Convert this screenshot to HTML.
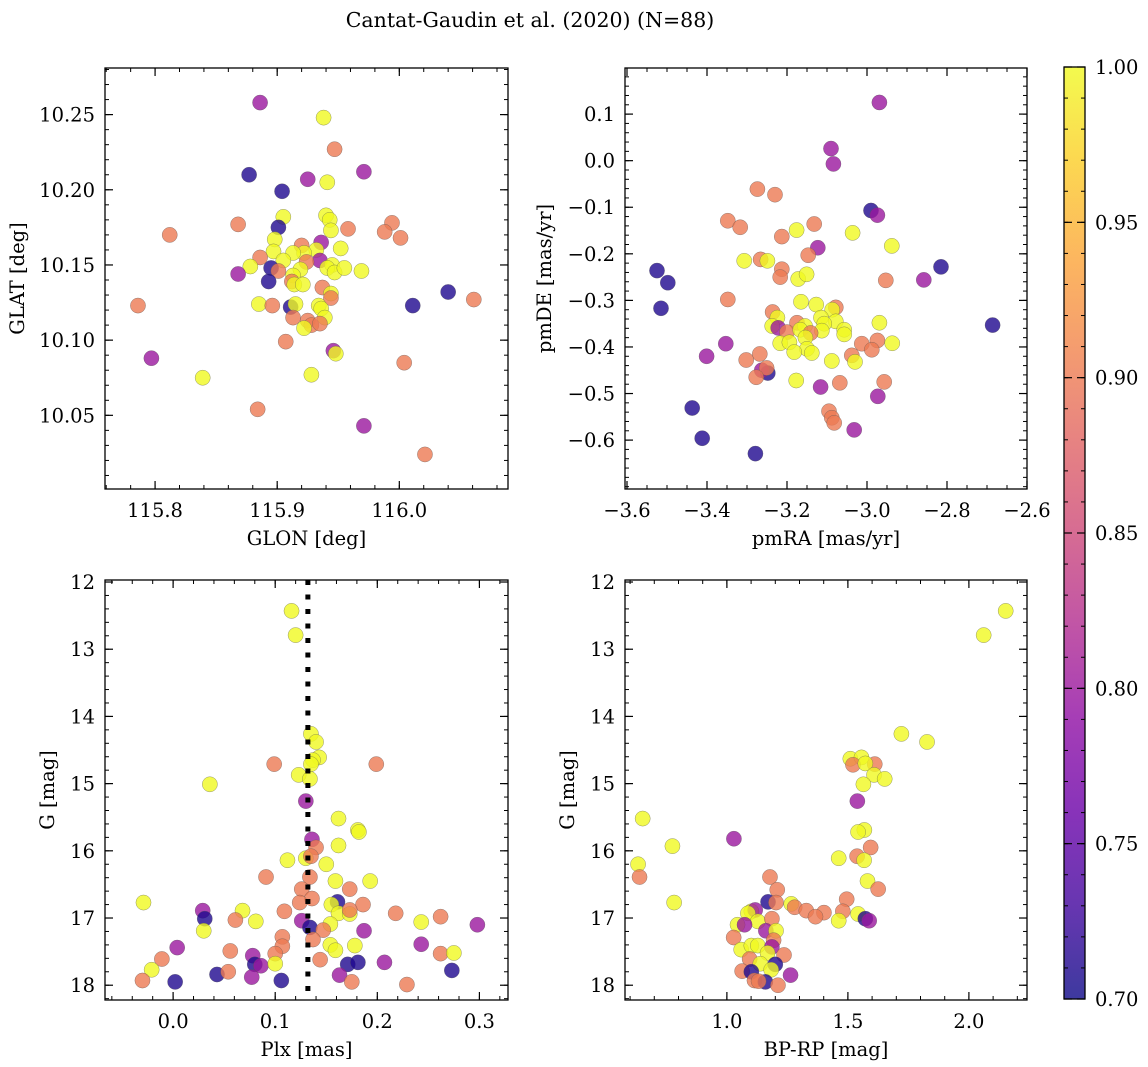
<!DOCTYPE html>
<html><head><meta charset="utf-8">
<style>
html,body{margin:0;padding:0;background:#fff;}
svg{display:block;font-family:"DejaVu Serif","Liberation Serif",serif;}
</style></head>
<body>
<svg id="fig" width="1148" height="1067" viewBox="0 0 1148 1067" xmlns="http://www.w3.org/2000/svg">
<defs>
<linearGradient id="plasma" x1="0" y1="1" x2="0" y2="0">
<stop offset="0" stop-color="#0d0887"/><stop offset="0.1" stop-color="#41049d"/><stop offset="0.2" stop-color="#6a00a8"/><stop offset="0.3" stop-color="#8f0da4"/><stop offset="0.4" stop-color="#b12a90"/><stop offset="0.5" stop-color="#cc4778"/><stop offset="0.6" stop-color="#e16462"/><stop offset="0.7" stop-color="#f2844b"/><stop offset="0.8" stop-color="#fca636"/><stop offset="0.9" stop-color="#fcce25"/><stop offset="1" stop-color="#f0f921"/>
</linearGradient>
</defs>
<text x="530" y="27" text-anchor="middle" font-size="20.5">Cantat-Gaudin et al. (2020) (N=88)</text>
</svg>
<script>
// probability codes
const Y=1.0,O=0.90,M=0.80,B=0.71;
// Panel 1: GLON, GLAT, prob
const glonGlat=[[115.886,10.258,M],[115.938,10.248,Y],[115.947,10.227,O],[115.877,10.210,B],[115.925,10.207,M],[115.971,10.212,M],[115.941,10.205,Y],[115.904,10.199,B],[115.905,10.182,Y],[115.901,10.175,B],[115.868,10.177,O],[115.812,10.170,O],[115.940,10.183,Y],[115.943,10.180,Y],[115.944,10.173,Y],[115.958,10.174,O],[115.994,10.178,O],[115.988,10.172,O],[116.001,10.168,O],[115.898,10.167,Y],[115.936,10.165,M],[115.920,10.163,O],[115.952,10.161,Y],[115.897,10.159,Y],[115.886,10.155,O],[115.932,10.160,Y],[115.922,10.158,Y],[115.913,10.158,Y],[115.905,10.153,Y],[115.935,10.153,M],[115.924,10.152,O],[115.878,10.149,Y],[115.895,10.148,B],[115.945,10.150,Y],[115.941,10.148,Y],[115.947,10.145,Y],[115.955,10.148,Y],[115.969,10.146,Y],[115.901,10.146,O],[115.919,10.147,Y],[115.913,10.143,Y],[115.868,10.144,M],[115.893,10.139,B],[115.912,10.139,O],[115.914,10.137,Y],[115.921,10.137,Y],[115.937,10.135,O],[115.944,10.131,Y],[115.944,10.128,O],[116.040,10.132,B],[116.061,10.127,O],[115.786,10.123,O],[115.885,10.124,Y],[115.896,10.123,O],[115.911,10.122,B],[115.915,10.124,Y],[116.011,10.123,B],[115.934,10.123,Y],[115.936,10.121,Y],[115.913,10.115,O],[115.939,10.115,Y],[115.925,10.113,O],[115.928,10.110,O],[115.935,10.111,O],[115.922,10.108,Y],[115.907,10.099,O],[115.946,10.093,M],[115.948,10.091,Y],[115.797,10.088,M],[116.004,10.085,O],[115.839,10.075,Y],[115.928,10.077,Y],[115.884,10.054,O],[115.971,10.043,M],[116.021,10.024,O]];
// Panel 2: pmRA, pmDE, prob
const pmRaDe=[[-2.969,0.125,M],[-3.090,0.026,M],[-3.084,-0.007,M],[-3.274,-0.061,O],[-3.230,-0.073,O],[-2.990,-0.107,B],[-2.974,-0.117,M],[-3.348,-0.129,O],[-3.317,-0.143,O],[-3.132,-0.136,O],[-3.176,-0.149,Y],[-3.036,-0.155,Y],[-3.213,-0.163,O],[-2.938,-0.183,Y],[-3.123,-0.187,M],[-3.147,-0.203,O],[-3.307,-0.215,Y],[-3.266,-0.212,O],[-3.249,-0.215,Y],[-2.815,-0.228,B],[-3.525,-0.236,B],[-3.213,-0.233,O],[-3.217,-0.250,O],[-3.172,-0.254,Y],[-3.151,-0.244,Y],[-3.498,-0.262,B],[-2.953,-0.257,O],[-2.858,-0.256,M],[-3.515,-0.317,B],[-3.348,-0.298,O],[-3.165,-0.303,Y],[-3.127,-0.309,Y],[-3.078,-0.315,O],[-3.087,-0.320,Y],[-3.236,-0.325,O],[-3.224,-0.337,Y],[-3.115,-0.337,Y],[-3.078,-0.345,Y],[-2.969,-0.348,Y],[-3.175,-0.348,O],[-2.686,-0.353,B],[-3.237,-0.355,Y],[-3.155,-0.355,Y],[-3.222,-0.359,M],[-3.107,-0.350,Y],[-3.200,-0.368,O],[-3.167,-0.363,Y],[-3.113,-0.365,Y],[-3.141,-0.370,O],[-3.057,-0.363,Y],[-3.057,-0.373,Y],[-3.154,-0.380,Y],[-3.217,-0.392,Y],[-3.194,-0.390,Y],[-3.353,-0.393,M],[-3.013,-0.393,O],[-2.974,-0.386,O],[-2.937,-0.392,Y],[-2.988,-0.406,O],[-3.150,-0.404,Y],[-3.182,-0.411,Y],[-3.138,-0.413,Y],[-3.401,-0.420,M],[-3.268,-0.415,O],[-3.038,-0.418,O],[-3.302,-0.428,O],[-3.088,-0.430,Y],[-3.030,-0.432,Y],[-3.248,-0.456,B],[-3.263,-0.450,M],[-3.251,-0.445,O],[-3.277,-0.465,O],[-3.177,-0.472,Y],[-3.068,-0.477,O],[-2.957,-0.475,O],[-3.116,-0.486,M],[-2.973,-0.506,M],[-3.437,-0.531,B],[-3.095,-0.538,O],[-3.088,-0.552,O],[-3.082,-0.563,O],[-3.032,-0.578,M],[-3.412,-0.596,B],[-3.279,-0.629,B]];
// Panel 3: Plx, G, prob
const plxG=[[0.116,12.43,Y],[0.120,12.79,Y],[0.135,14.26,Y],[0.140,14.38,Y],[0.143,14.61,Y],[0.137,14.65,Y],[0.135,14.71,Y],[0.099,14.71,O],[0.199,14.71,O],[0.123,14.87,Y],[0.134,14.93,Y],[0.036,15.01,Y],[0.130,15.26,M],[0.162,15.52,Y],[0.181,15.69,Y],[0.182,15.72,Y],[0.136,15.83,M],[0.140,15.95,O],[0.162,15.92,Y],[0.112,16.14,Y],[0.130,16.11,Y],[0.135,16.08,O],[0.150,16.20,Y],[0.091,16.39,O],[0.134,16.39,O],[0.159,16.45,Y],[0.193,16.45,Y],[0.173,16.57,O],[0.126,16.57,O],[0.136,16.71,O],[0.124,16.77,O],[0.161,16.76,B],[0.155,16.80,Y],[-0.029,16.77,Y],[0.186,16.80,O],[0.029,16.89,M],[0.068,16.89,Y],[0.109,16.90,O],[0.162,16.93,Y],[0.173,16.94,Y],[0.173,16.88,O],[0.218,16.93,O],[0.262,16.98,O],[0.031,17.01,B],[0.061,17.03,O],[0.081,17.05,Y],[0.126,17.04,M],[0.243,17.06,Y],[0.298,17.10,M],[0.154,17.09,Y],[0.134,17.14,B],[0.147,17.18,O],[0.030,17.19,Y],[0.187,17.19,M],[0.107,17.28,O],[0.137,17.32,O],[0.107,17.42,O],[0.154,17.40,Y],[0.159,17.48,Y],[0.178,17.41,Y],[0.243,17.39,M],[0.004,17.44,M],[0.100,17.53,O],[0.056,17.49,O],[0.262,17.53,O],[0.275,17.52,Y],[-0.011,17.61,O],[0.078,17.56,M],[0.144,17.62,O],[0.080,17.69,B],[0.086,17.71,M],[0.100,17.68,Y],[0.171,17.69,B],[0.181,17.66,B],[0.207,17.66,M],[-0.021,17.77,Y],[0.273,17.78,B],[0.043,17.84,B],[0.054,17.80,O],[0.163,17.85,M],[0.077,17.88,M],[-0.030,17.93,O],[0.002,17.95,B],[0.106,17.93,B],[0.175,17.95,O],[0.229,17.99,O]];
// Panel 4: BP-RP, G, prob
const colorG=[[2.152,12.43,Y],[2.061,12.79,Y],[1.721,14.26,Y],[1.827,14.38,Y],[1.510,14.63,Y],[1.556,14.61,Y],[1.521,14.72,O],[1.611,14.71,O],[1.572,14.70,Y],[1.608,14.87,Y],[1.652,14.93,Y],[1.564,15.01,Y],[1.539,15.26,M],[0.652,15.52,Y],[1.568,15.69,Y],[1.542,15.72,Y],[1.029,15.82,M],[0.775,15.93,Y],[1.594,15.95,O],[1.538,16.08,O],[1.567,16.14,Y],[1.462,16.11,Y],[0.633,16.20,Y],[0.639,16.39,O],[1.178,16.39,O],[1.581,16.45,Y],[1.625,16.57,O],[1.208,16.58,O],[0.782,16.77,Y],[1.170,16.76,B],[1.203,16.77,O],[1.495,16.72,O],[1.266,16.79,Y],[1.280,16.84,O],[1.328,16.89,O],[1.401,16.92,O],[1.366,16.98,O],[1.479,16.90,O],[1.542,16.94,Y],[1.572,17.01,B],[1.588,17.04,M],[1.462,17.04,Y],[1.101,16.90,Y],[1.117,16.88,M],[1.087,16.93,Y],[1.128,17.05,Y],[1.186,17.01,O],[1.044,17.10,Y],[1.073,17.10,M],[1.161,17.19,M],[1.203,17.19,Y],[1.028,17.29,O],[1.193,17.33,O],[1.059,17.47,Y],[1.101,17.41,Y],[1.128,17.41,Y],[1.186,17.43,M],[1.168,17.52,Y],[1.236,17.55,O],[1.094,17.61,O],[1.138,17.68,Y],[1.200,17.69,B],[1.183,17.77,Y],[1.263,17.85,M],[1.063,17.79,O],[1.101,17.80,B],[1.114,17.93,O],[1.159,17.95,B],[1.131,17.94,O],[1.211,18.00,O]];
const plxRef=[0.1320];
const cbTicks=[0.70,0.75,0.80,0.85,0.90,0.95,1.00];
const xt1=[115.8,115.9,116.0], yt1=[10.05,10.10,10.15,10.20,10.25];
const xt2=[-3.6,-3.4,-3.2,-3.0,-2.8,-2.6], yt2=[0.1,0.0,-0.1,-0.2,-0.3,-0.4,-0.5,-0.6];
const xt3=[0.0,0.1,0.2,0.3], yt3=[12,13,14,15,16,17,18];
const xt4=[1.0,1.5,2.0], yt4=[12,13,14,15,16,17,18];

const NS="http://www.w3.org/2000/svg";
const svg=document.getElementById('fig');
const FS=19.5;
function mk(tag,attrs,parent){const e=document.createElementNS(NS,tag);for(const k in attrs)e.setAttribute(k,attrs[k]);(parent||svg).appendChild(e);return e;}
const stops=[[0,[13,8,135]],[0.1,[65,4,157]],[0.2,[106,0,168]],[0.3,[143,13,164]],[0.4,[177,42,144]],[0.5,[204,71,120]],[0.6,[225,100,98]],[0.7,[242,132,75]],[0.8,[252,166,54]],[0.9,[252,206,37]],[1,[240,249,33]]];
function plasma(p){let t=Math.max(0,Math.min(1,(p-0.7)/0.3));for(let i=1;i<stops.length;i++){if(t<=stops[i][0]){const a=stops[i-1],b=stops[i],f=(t-a[0])/(b[0]-a[0]);return 'rgb('+a[1].map((v,j)=>Math.round(v+(b[1][j]-v)*f)).join(',')+')';}}return 'rgb(240,249,33)';}
function fmt(v,d){let s=v.toFixed(d);return s.replace('-','\u2212');}

function panel(o){
  const g=mk('g',{});
  
  
  const sx=v=>o.x0+(v-o.xmin)/(o.xmax-o.xmin)*(o.x1-o.x0);
  const sy=v=>o.inv? o.y0+(v-o.ymin)/(o.ymax-o.ymin)*(o.y1-o.y0) : o.y1-(v-o.ymin)/(o.ymax-o.ymin)*(o.y1-o.y0);
  const pts=mk('g',{},g);
  
  
  o.data.forEach(d=>{const c=mk('circle',{cx:sx(d[0]),cy:sy(d[1]),r:7.6,fill:plasma(d[2]),'fill-opacity':0.8,stroke:'#555','stroke-opacity':0.6,'stroke-width':0.5},pts);
    
    });
  if(o.vline){o.vline.forEach(v=>{const l=mk('line',{x1:sx(v),x2:sx(v),y1:o.y0,y2:o.y1,stroke:'#000','stroke-width':5,'stroke-dasharray':'5 9.5'},g);
    
    });}
  const ax=mk('g',{},g);
  
  
  mk('rect',{x:o.x0,y:o.y0,width:o.x1-o.x0,height:o.y1-o.y0,fill:'none',stroke:'#000','stroke-width':1.3},ax);
  const eps=1e-9;
  for(let v=Math.ceil(o.xmin/o.xminor-eps)*o.xminor;v<=o.xmax+eps;v+=o.xminor){const x=sx(v);mk('line',{x1:x,x2:x,y1:o.y1,y2:o.y1-4,stroke:'#000','stroke-width':1},ax);mk('line',{x1:x,x2:x,y1:o.y0,y2:o.y0+4,stroke:'#000','stroke-width':1},ax);}
  for(let v=Math.ceil(o.ymin/o.yminor-eps)*o.yminor;v<=o.ymax+eps;v+=o.yminor){const y=sy(v);mk('line',{x1:o.x0,x2:o.x0+4,y1:y,y2:y,stroke:'#000','stroke-width':1},ax);mk('line',{x1:o.x1,x2:o.x1-4,y1:y,y2:y,stroke:'#000','stroke-width':1},ax);}
  o.xt.forEach(v=>{const x=sx(v);mk('line',{x1:x,x2:x,y1:o.y1,y2:o.y1-8,stroke:'#000','stroke-width':1.2},ax);mk('line',{x1:x,x2:x,y1:o.y0,y2:o.y0+8,stroke:'#000','stroke-width':1.2},ax);
    const t=mk('text',{x:x,y:o.y1+28,'text-anchor':'middle','font-size':FS},g);t.textContent=fmt(v,o.xd);
    
    });
  o.yt.forEach(v=>{const y=sy(v);mk('line',{x1:o.x0,x2:o.x0+8,y1:y,y2:y,stroke:'#000','stroke-width':1.2},ax);mk('line',{x1:o.x1,x2:o.x1-8,y1:y,y2:y,stroke:'#000','stroke-width':1.2},ax);
    const t=mk('text',{x:o.x0-10,y:y+7,'text-anchor':'end','font-size':FS},g);t.textContent=fmt(v,o.yd);
    
    });
  const xl=mk('text',{x:(o.x0+o.x1)/2,y:o.y1+56,'text-anchor':'middle','font-size':FS},g);xl.textContent=o.xlabel;
  
  
  const yc=(o.y0+o.y1)/2;
  const yl=mk('text',{x:o.ylx,y:yc,'text-anchor':'middle','font-size':FS,transform:'rotate(-90 '+o.ylx+' '+yc+')'},g);yl.textContent=o.ylabel;
  
  
}
panel({name:'glon-glat-panel',data:glonGlat,x0:105,x1:508,y0:68,y1:489,xmin:115.759,xmax:116.089,ymin:10.001,ymax:10.281,xt:xt1,yt:yt1,xminor:0.02,yminor:0.01,xd:1,yd:2,xlabel:'GLON [deg]',ylabel:'GLAT [deg]',ylx:24});
panel({name:'proper-motion-panel',data:pmRaDe,x0:625,x1:1027,y0:68,y1:489,xmin:-3.605,xmax:-2.6,ymin:-0.705,ymax:0.199,xt:xt2,yt:yt2,xminor:0.05,yminor:0.02,xd:1,yd:1,xlabel:'pmRA [mas/yr]',ylabel:'pmDE [mas/yr]',ylx:551});
panel({name:'parallax-magnitude-panel',data:plxG,vline:plxRef,x0:105,x1:508,y0:580,y1:1000,xmin:-0.0667,xmax:0.328,ymin:11.97,ymax:18.22,inv:true,xt:xt3,yt:yt3,xminor:0.02,yminor:0.2,xd:1,yd:0,xlabel:'Plx [mas]',ylabel:'G [mag]',ylx:54});
panel({name:'color-magnitude-panel',data:colorG,x0:625,x1:1027,y0:580,y1:1000,xmin:0.579,xmax:2.24,ymin:11.97,ymax:18.22,inv:true,xt:xt4,yt:yt4,xminor:0.1,yminor:0.2,xd:1,yd:0,xlabel:'BP-RP [mag]',ylabel:'G [mag]',ylx:574});

const cb=mk('g',{});


const cx0=1064,cx1=1085,cy0=67,cy1=999;
mk('rect',{x:cx0,y:cy0,width:cx1-cx0,height:cy1-cy0,fill:'url(#plasma)','fill-opacity':0.8},cb);
mk('rect',{x:cx0,y:cy0,width:cx1-cx0,height:cy1-cy0,fill:'none',stroke:'#000','stroke-width':1.3},cb);
const cs=v=>cy1-(v-0.7)/0.3*(cy1-cy0);
for(let v=0.70;v<=1.0001;v+=0.01){const y=cs(v);mk('line',{x1:cx0,x2:cx0+4,y1:y,y2:y,stroke:'#000','stroke-width':1},cb);mk('line',{x1:cx1,x2:cx1-4,y1:y,y2:y,stroke:'#000','stroke-width':1},cb);}
cbTicks.forEach(v=>{const y=cs(v);mk('line',{x1:cx0,x2:cx0+8,y1:y,y2:y,stroke:'#000','stroke-width':1.2},cb);mk('line',{x1:cx1,x2:cx1-8,y1:y,y2:y,stroke:'#000','stroke-width':1.2},cb);
  const t=mk('text',{x:cx1+10,y:y+7,'font-size':FS},cb);t.textContent=v.toFixed(2);
  
  });
</script>
</body></html>
